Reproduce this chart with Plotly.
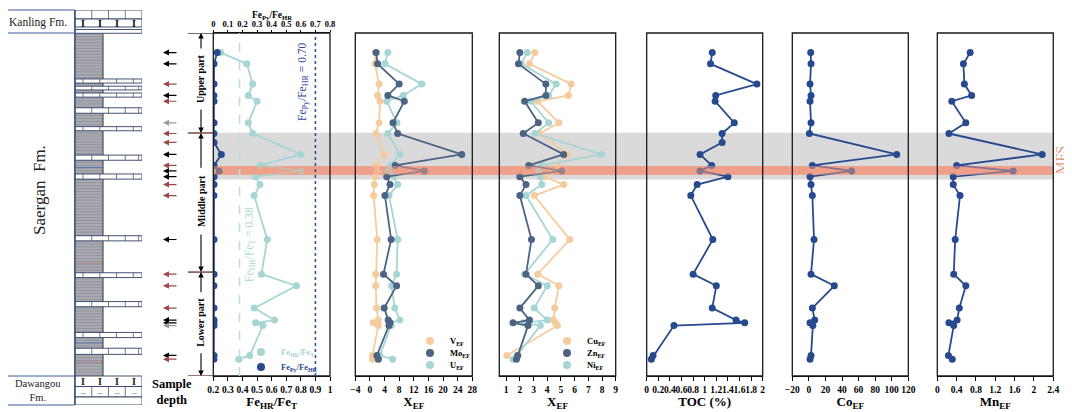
import numpy as np
import plotly.graph_objects as go

# the page body keeps an 8 px margin, so the figure is drawn 8 px smaller
PAD = 8
W, H = 1072 - PAD, 412 - PAD
SERIF = "Liberation Serif"

TEAL = "#a5d6d3"
NAVY = "#27498e"
SLATE = "#4c6384"
PEACH = "#f6cc9e"

# ---- data (relative sample depth: 0 = top, 100 = base of Saergan Fm.) ----
sample_depth = [5.7, 9.0, 14.9, 18.2, 19.9, 26.2, 29.3, 31.9, 35.4, 38.6, 40.2, 41.9,
                44.2, 47.4, 60.2, 70.3, 73.7, 80.2, 83.7, 84.5, 85.3, 94.0, 95.1]

fehr_fet = [0.25, 0.43, 0.47, 0.44, 0.50, 0.44, 0.47, None, 0.80, 0.52, 0.80, 0.49,
            0.52, 0.48, 0.57, 0.53, 0.77, 0.48, 0.62, 0.49, 0.54, 0.45, 0.375]
fepy_fehr = [0.027, 0.005, 0.005, 0.004, 0.005, 0.005, 0.004, 0.005, 0.055, 0.005, 0.04, 0.005,
             0.005, 0.004, 0.005, 0.005, 0.004, 0.005, 0.005, 0.004, 0.005, 0.005, 0.004]

v_ef = [1.5, 1.4, 2.5, 2.1, 2.75, 2.5, 1.6, None, 3.9, 1.8, 2.0, 1.4,
        1.2, 1.0, 2.0, 1.6, 1.6, 1.8, 2.3, 0.9, 2.3, 0.7, 0.7]
mo_ef = [1.7, 2.1, 8.0, 4.9, 9.4, 6.3, 7.6, None, 25.1, 6.9, 14.9, 4.6,
         5.5, 4.1, 5.8, 3.7, 7.3, 3.9, 5.0, 5.5, 5.2, 1.9, 2.3]
u_ef = [4.9, 4.1, 14.2, 9.1, 4.6, 7.4, 4.9, None, 8.2, 5.6, 5.0, 6.5,
        7.6, 5.2, 7.6, 7.3, 5.9, 6.8, 8.2, 5.6, 5.8, 2.7, 6.2]

cu_ef = [3.1, 2.7, 5.75, 5.55, 3.3, 4.85, 3.45, None, 5.5, 4.8, 4.3, 3.8,
         5.2, 3.05, 5.65, 3.3, 4.85, 4.55, 4.45, 4.6, 4.75, 1.05, None]
zn_ef = [2.0, 1.9, 3.9, 3.9, 2.35, 3.35, 2.25, None, 5.2, 2.65, 5.05, 2.0,
         2.45, 2.0, 2.85, 2.45, 3.35, 2.0, 2.7, 1.5, 2.6, 1.85, 1.75]
ni_ef = [2.55, 2.1, 4.65, 4.1, 2.8, 4.1, 3.1, None, 7.95, 3.6, 3.4, 3.5,
         3.6, 2.45, 4.4, 2.35, 4.0, 3.05, 4.0, 2.3, 3.5, 1.8, 1.5]

toc = [1.13, 1.10, 1.90, 1.19, 1.18, 1.51, 1.30, 1.30, 0.92, 1.12, 0.92, 1.40,
       0.87, 0.76, 1.14, 0.80, 1.20, 1.13, 1.54, 1.69, 0.47, 0.11, 0.08]
co_ef = [2.2, 2.6, 1.4, 2.6, 1.4, 2.6, 0.6, None, 106, 4.2, 51.6, 1.4,
         2.6, 4.2, 6.2, 2.6, 30.7, 4.2, 7.0, 1.4, 4.8, 2.6, 1.4]
mn_ef = [0.68, 0.54, 0.56, 0.71, 0.30, 0.59, 0.24, None, 2.17, 0.40, 1.57, 0.33,
         0.33, 0.47, 0.37, 0.34, 0.59, 0.455, 0.41, 0.24, 0.34, 0.23, 0.31]

arrow_colors = ["k", "k", "b", "k", "b", "g", "b", "b", "k", "b", "k", "k",
                "b", "b", "k", "b", "b", "b", "k", "k", "g", "k", "b"]

# unit boundaries, grey interval and MFS interval (same depth units)
unit_bounds = [0, 29.15, 69.7, 100]
units = [("Upper part", 13.4), ("Middle part", 49.0), ("Lower part", 84.5)]
grey_band = (29.1, 42.7)
mfs_band = (38.8, 41.3)

# lithology column: limestone beds (top, bottom)
limestone_beds = [(13.4, 14.6), (15.5, 16.6), (17.5, 18.7), (21.8, 23.4), (27.3, 28.5),
                  (35.6, 37.1), (41.1, 42.6), (59.1, 60.6), (69.9, 71.3), (78.3, 79.8),
                  (87.3, 88.8), (91.9, 93.7)]


def fx(px):
    return (px - PAD) / W


def fy(py):
    return 1 - (py - PAD) / H


def dep(py):
    return (py - 33) / 3.43


panels = [(213.3, 330), (355.3, 472.3), (499.3, 615.7),
          (646.7, 762.7), (792.3, 908.3), (937.3, 1053.3)]
ydom = [fy(376), fy(33)]

fig = go.Figure()


def line_trace(x, color, xa, name, width=1.8):
    return go.Scatter(x=x, y=sample_depth, xaxis=xa, yaxis="y", mode="lines+markers",
                      connectgaps=True, showlegend=False, name=name,
                      line=dict(color=color, width=width),
                      marker=dict(color=color, size=7))


fig.add_trace(line_trace(fehr_fet, TEAL, "x", "FeHR/FeT"))
fig.add_trace(line_trace(fepy_fehr, NAVY, "x2", "FePy/FeHR"))
fig.add_trace(line_trace(v_ef, PEACH, "x3", "V"))
fig.add_trace(line_trace(u_ef, TEAL, "x3", "U"))
fig.add_trace(line_trace(mo_ef, SLATE, "x3", "Mo"))
fig.add_trace(line_trace(cu_ef, PEACH, "x4", "Cu"))
fig.add_trace(line_trace(ni_ef, TEAL, "x4", "Ni"))
fig.add_trace(line_trace(zn_ef, SLATE, "x4", "Zn"))
fig.add_trace(line_trace(toc, NAVY, "x5", "TOC"))
fig.add_trace(line_trace(co_ef, NAVY, "x6", "Co"))
fig.add_trace(line_trace(mn_ef, NAVY, "x7", "Mn"))

# legend entries: (color, label, marker x px, marker y px), one legend box each
legend_items = [
    (TEAL, f'<span style="color:{TEAL}">Fe<sub>HR</sub>/Fe<sub>T</sub></span>', 264, 352, "x"),
    (NAVY, f'<span style="color:{NAVY}">Fe<sub>Py</sub>/Fe<sub>HR</sub></span>', 264, 367, "x"),
    (PEACH, "V<sub>EF</sub>", 433, 341, "x3"),
    (SLATE, "Mo<sub>EF</sub>", 433, 353, "x3"),
    (TEAL, "U<sub>EF</sub>", 433, 365, "x3"),
    (PEACH, "Cu<sub>EF</sub>", 570, 341, "x4"),
    (SLATE, "Zn<sub>EF</sub>", 570, 353, "x4"),
    (TEAL, "Ni<sub>EF</sub>", 570, 365, "x4"),
]
legend_layout = {}
for i, (c, name, mx, my, xa) in enumerate(legend_items):
    key = "legend" if i == 0 else f"legend{i + 1}"
    fig.add_trace(go.Scatter(x=[None], y=[None], xaxis=xa, yaxis="y", mode="markers",
                             marker=dict(color=c, size=8), name=name, legend=key))
    legend_layout[key] = dict(x=fx(mx - 23), y=fy(my), xanchor="left", yanchor="middle",
                              bgcolor="rgba(0,0,0,0)", borderwidth=0, itemwidth=30,
                              font=dict(family=SERIF, size=8.5, color="black", weight="bold"))

# shale stripes in the lithology column
stripe_x, stripe_y = [], []
for d in np.arange(dep(34), dep(376), 0.85):
    stripe_x += [0, 0.418, None]
    stripe_y += [d, d, None]
fig.add_trace(go.Scatter(x=stripe_x, y=stripe_y, xaxis="x8", yaxis="y2", mode="lines",
                         line=dict(color="#85858f", width=0.6), showlegend=False, hoverinfo="skip"))
for d, c in [(40, "#4d6fb3"), (62, "#4d6fb3"), (70, "#b07a78"), (95, "#4d6fb3"), (101, "#b07a78")]:
    fig.add_trace(go.Scatter(x=[0, 0.418], y=[d * 0.93 + 2, d * 0.93 + 2], xaxis="x8", yaxis="y2",
                             mode="lines", line=dict(color=c, width=0.8),
                             showlegend=False, hoverinfo="skip"))


def tick_axis(dom, rng, dtick, title, tick0=None, fsize=9.5, tlen=4, **kw):
    ax = dict(domain=[fx(dom[0]), fx(dom[1])], range=rng, anchor="y", dtick=dtick,
              showline=True, linecolor="black", linewidth=1.2, mirror=False,
              ticks="outside", ticklen=tlen, tickwidth=1, tickcolor="black", automargin=False,
              tickangle=0,
              tickfont=dict(family=SERIF, size=fsize, color="black", weight="bold"),
              title=dict(text=title, standoff=2,
                         font=dict(family=SERIF, size=13, color="black", weight="bold")),
              showgrid=False, zeroline=False)
    if tick0 is not None:
        ax["tick0"] = tick0
    ax.update(kw)
    return ax


def label(x, y, text, size, color="#222", angle=0, xref="paper", yref="paper", yanchor="middle"):
    return dict(xref=xref, yref=yref, x=x, y=y, text=text, showarrow=False, textangle=angle,
                xanchor="center", yanchor=yanchor,
                font=dict(family=SERIF, size=size, color=color))


shapes = []
ann = []

# background bands
shapes.append(dict(type="rect", xref="paper", yref="y", x0=fx(213.3), x1=fx(1053.3),
                   y0=grey_band[0], y1=grey_band[1], fillcolor="#dadada",
                   line=dict(width=0), layer="below"))
for op, layer in [(1.0, "below"), (0.5, "above")]:
    shapes.append(dict(type="rect", xref="paper", yref="y", x0=fx(213.3), x1=fx(1053.3),
                       y0=mfs_band[0], y1=mfs_band[1], fillcolor="#eea088", opacity=op,
                       line=dict(width=0), layer=layer))

# panel frames
for a, b in panels:
    shapes.append(dict(type="rect", xref="paper", yref="paper", x0=fx(a), x1=fx(b),
                       y0=ydom[0], y1=ydom[1], line=dict(color="#1a1a1a", width=1.3)))

# reference lines in first panel
shapes.append(dict(type="line", xref="x", yref="paper", x0=0.38, x1=0.38, y0=ydom[0], y1=ydom[1],
                   line=dict(color="#b9e0dd", width=1.5, dash="dash")))
shapes.append(dict(type="line", xref="x2", yref="paper", x0=0.70, x1=0.70, y0=ydom[0], y1=ydom[1],
                   line=dict(color="#2b4a9a", width=1.5, dash="dot")))
ann.append(label(fx(250), dep(245), "Fe<sub>HR</sub>/Fe<sub>T</sub> = 0.38", 11.5,
                 "#a9d9d6", -90, yref="y"))
ann.append(label(fx(303), dep(82), "Fe<sub>Py</sub>/Fe<sub>HR</sub> = 0.70", 11.5,
                 "#2b4a9a", -90, yref="y"))

# top axis title of the first panel (placed by hand: no room above the tick labels)
ann.append(label(fx(271.6), 1.0, "<b>Fe<sub>Py</sub>/Fe<sub>HR</sub></b>", 9.5, "black",
                 yanchor="top"))

# unit boundaries and brackets
for i, d in enumerate(unit_bounds):
    shapes.append(dict(type="line", xref="paper", yref="y", x0=fx(188), x1=fx(213.3), y0=d, y1=d,
                       line=dict(color="#222" if i == 0 else "#6a2a25", width=1.3)))
for name, d in units:
    ann.append(label(fx(201), d, f"<b>{name}</b>", 10, "black", -90, yref="y"))
for i, (name, d) in enumerate(units):
    top, bot = unit_bounds[i], unit_bounds[i + 1]
    gap = len(name) * 2.9
    for head, sign in [(top, 1), (bot, -1)]:
        length = abs(d - head) * 3.43 - gap
        ann.append(dict(xref="paper", yref="y", x=fx(201), y=head, ax=0,
                        ay=sign * length, text="", showarrow=True, arrowhead=2,
                        arrowsize=1, arrowwidth=1.1, arrowcolor="black"))

# sample arrows
acol = {"k": "black", "b": "#9b4a48", "g": "#9a9a9a"}
for d, c in zip(sample_depth, arrow_colors):
    ann.append(dict(xref="paper", yref="y", x=fx(163), y=d, ax=15, ay=0, text="",
                    showarrow=True, arrowhead=2, arrowsize=1, arrowwidth=1.2,
                    arrowcolor=acol[c]))

ann.append(label(fx(172), fy(392), "<b>Sample<br>depth</b>", 12.5, "black"))
ann.append(label(fx(1061), dep(160), "MFS", 14, "#e49a80", -90, yref="y"))

# formation name column
shapes.append(dict(type="rect", xref="paper", yref="paper", x0=fx(1), x1=fx(74.5),
                   y0=fy(405), y1=fy(10), line=dict(color="#3d5d9c", width=1)))
for py in (33, 376):
    shapes.append(dict(type="line", xref="paper", yref="paper", x0=fx(1), x1=fx(74.5),
                       y0=fy(py), y1=fy(py), line=dict(color="#3d5d9c", width=1)))
ann.append(label(fx(37.5), fy(22), "Kanling Fm.", 11.5))
ann.append(label(fx(40), fy(190), "Saergan  Fm.", 17, angle=-90))
ann.append(label(fx(37.5), fy(390), "Dawangou<br>Fm.", 10.5))

# lithology column (x8 / y2)
LB = dict(color="#2f3f66", width=0.9)
shapes.append(dict(type="rect", xref="x8", yref="y2", x0=0, x1=0.418, y0=dep(33.3), y1=dep(376),
                   fillcolor="#aaaab3", line=dict(width=0), layer="below"))
shapes.append(dict(type="line", xref="x8", yref="y2", x0=0.418, x1=0.418, y0=dep(33.3), y1=dep(376),
                   line=dict(color="#333", width=1)))
for j, (t, b) in enumerate(limestone_beds):
    shapes.append(dict(type="rect", xref="x8", yref="y2", x0=0, x1=1, y0=t, y1=b,
                       fillcolor="white", line=LB))
    xs = [0.25, 0.5, 0.75, 0.95] if j % 2 else [0.12, 0.37, 0.62, 0.87]
    for xv in xs:
        shapes.append(dict(type="line", xref="x8", yref="y2", x0=xv, x1=xv, y0=t, y1=b,
                           line=dict(color="#555", width=0.8)))
# Kanling and Dawangou blocks
for (t, b) in [(dep(10), dep(19)), (dep(19), dep(27)), (dep(29.5), dep(33.3)),
               (dep(376), dep(386.5)), (dep(386.5), dep(397)), (dep(397), dep(405))]:
    shapes.append(dict(type="rect", xref="x8", yref="y2", x0=0, x1=1, y0=t, y1=b,
                       fillcolor="white", line=LB))
for xv in [0.25, 0.5, 0.75]:
    shapes.append(dict(type="line", xref="x8", yref="y2", x0=xv, x1=xv, y0=dep(10), y1=dep(19),
                       line=dict(color="#555", width=0.8)))
    shapes.append(dict(type="line", xref="x8", yref="y2", x0=xv, x1=xv, y0=dep(386.5), y1=dep(397),
                       line=dict(color="#555", width=0.8)))
for xv in [0.12, 0.37, 0.63, 0.88]:
    for py in (23, 381):
        ann.append(label(xv, dep(py), "<b>I</b>", 10, xref="x8", yref="y2"))
    ann.append(label(xv, dep(391.5), "–", 9, "#444", xref="x8", yref="y2"))
    shapes.append(dict(type="line", xref="x8", yref="y2", x0=xv, x1=xv, y0=dep(19), y1=dep(27),
                       line=dict(color="#555", width=0.8)))
shapes.append(dict(type="line", xref="x8", yref="y2", x0=0, x1=0, y0=dep(10), y1=dep(405),
                   line=dict(color="#333", width=1)))

fig.update_layout(
    width=W, height=H, margin=dict(l=0, r=0, t=0, b=0, autoexpand=False),
    paper_bgcolor="white", plot_bgcolor="rgba(0,0,0,0)",
    showlegend=True,
    xaxis=tick_axis(panels[0], [0.2, 1.0], 0.1, "Fe<sub>HR</sub>/Fe<sub>T</sub>", tick0=0.2),
    xaxis2=tick_axis(panels[0], [0, 0.8], 0.1, "", tick0=0, fsize=8.5, tlen=2,
                     overlaying="x", side="top"),
    xaxis3=tick_axis(panels[1], [-4, 28], 4, "X<sub>EF</sub>", tick0=-4),
    xaxis4=tick_axis(panels[2], [0.5, 9], 1, "X<sub>EF</sub>", tick0=1),
    xaxis5=tick_axis(panels[3], [0, 2], 0.2, "TOC (%)", tick0=0),
    xaxis6=tick_axis(panels[4], [-20, 120], 20, "Co<sub>EF</sub>", tick0=-20),
    xaxis7=tick_axis(panels[5], [0, 2.4], 0.4, "Mn<sub>EF</sub>", tick0=0),
    xaxis8=dict(domain=[fx(75), fx(142)], range=[0, 1], anchor="y2", visible=False),
    yaxis=dict(domain=ydom, range=[100, 0], visible=False, anchor="x", automargin=False),
    yaxis2=dict(domain=[fy(405), fy(10)], range=[dep(405), dep(10)], visible=False, anchor="x8"),
    shapes=shapes, annotations=ann,
    **legend_layout,
)

fig.write_html("out.html")
